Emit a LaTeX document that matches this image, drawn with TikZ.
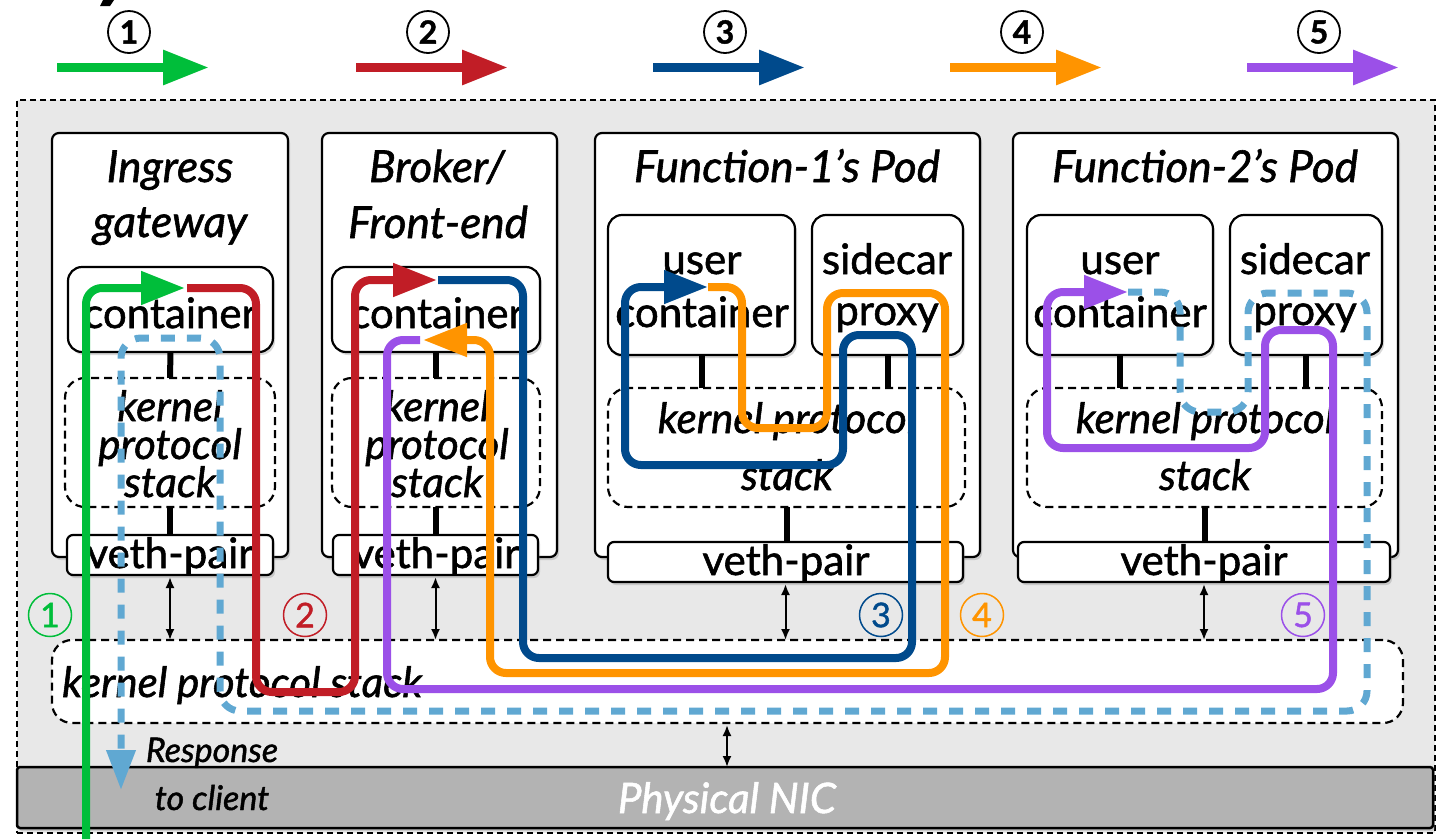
\documentclass[tikz,border=0pt]{standalone}
\usepackage{fontspec}
\setmainfont{Lato}[FakeBold=1.3]
\usetikzlibrary{arrows.meta,shadows}

\definecolor{cGreen}{RGB}{0,190,58}
\definecolor{cRed}{RGB}{193,29,38}
\definecolor{cBlue}{RGB}{0,74,140}
\definecolor{cOrange}{RGB}{255,148,0}
\definecolor{cPurple}{RGB}{155,80,232}
\definecolor{cResp}{RGB}{96,168,210}
\definecolor{hostGrey}{RGB}{232,232,232}
\definecolor{nicGrey}{RGB}{179,179,179}

\newcommand\fsz[1]{\fontsize{#1}{#1}\selectfont}

\begin{document}
\begin{tikzpicture}[x=1pt,y=-1pt,
  box/.style={draw=black, fill=white, line width=2.2pt, inner sep=0pt, outer sep=0pt, anchor=north west},
  shade3/.style={drop shadow={shadow xshift=2pt, shadow yshift=-3pt, opacity=0.3}},
  pod/.style={box, rounded corners=7pt, shade3},
  ctr/.style={box, rounded corners=14pt, shade3},
  kstack/.style={box, dash pattern=on 8pt off 5pt, rounded corners=20pt},
  veth/.style={box, rounded corners=6pt, shade3},
  link/.style={line width=6pt},
  dbl/.style={line width=2pt, {Latex[length=11pt,width=9pt]}-{Latex[length=11pt,width=9pt]}},
  ttl/.style={font=\itshape\fsz{44}, inner sep=0pt, anchor=base},
  upr/.style={font=\fsz{42}, inner sep=0pt, anchor=base},
  itl/.style={font=\itshape\fsz{42}, inner sep=0pt, anchor=base},
  flow/.style={line width=8pt, rounded corners=16pt},
  tip/.style={-{Triangle[length=44pt,width=32pt]}},
  legarrow/.style={line width=9pt, -{Triangle[length=46pt,width=33pt]}},
  legnum/.style={circle, draw=black, line width=1.8pt, minimum size=42pt, inner sep=0pt, font=\bfseries\fsz{32}},
  numc/.style={circle, draw=#1, text=#1, line width=1.5pt, minimum size=43pt, inner sep=0pt, font=\fsz{34}}
]
\useasboundingbox (0,0) rectangle (1437,839);
\fill[white] (0,0) rectangle (1437,839);

% stray stroke at the upper edge
\fill[black] (103,0) -- (114,0) -- (110,6) -- (100,6) -- cycle;

% legend
\foreach \x/\c/\n in {57/cGreen/1, 356/cRed/2, 653/cBlue/3, 950/cOrange/4, 1247/cPurple/5}{
  \coordinate (ls\n) at (\x,67.5);
  \coordinate (le\n) at (\x+152,67.5);
  \draw[legarrow, \c] (ls\n) -- (le\n);
  \node[legnum] (lg\n) at (\x+72,32) {\n};
}

% host area
\node[box, fill=hostGrey, line width=2pt, dash pattern=on 6pt off 4pt,
      minimum width=1418pt, minimum height=733pt] (host) at (17,100) {};

% physical NIC
\node[box, fill=nicGrey, line width=2.5pt, rounded corners=3pt, shade3,
      minimum width=1416pt, minimum height=61pt] (nic) at (17,767) {};
\node[font=\itshape\fsz{42}, text=white, inner sep=0pt, anchor=base] (nict) at (727,813) {Physical NIC};

% host kernel protocol stack
\node[kstack, minimum width=1351pt, minimum height=83pt] (hk) at (52,640) {};
\node[itl, anchor=base west] (hkt) at (62,697) {kernel protocol stack};

% pods
\node[pod, minimum width=236pt, minimum height=424pt] (ig) at (52,133) {};
\node[pod, minimum width=235pt, minimum height=424pt] (br) at (322,133) {};
\node[pod, minimum width=385pt, minimum height=424pt] (f1) at (595,133) {};
\node[pod, minimum width=385pt, minimum height=424pt] (f2) at (1013,133) {};

% containers
\node[ctr, minimum width=205pt, minimum height=85pt] (igc) at (68,267) {};
\node[ctr, minimum width=208pt, minimum height=85pt] (brc) at (332,267) {};
\node[ctr, minimum width=187pt, minimum height=140pt] (f1u) at (608,215) {};
\node[ctr, minimum width=151pt, minimum height=140pt] (f1s) at (812,215) {};
\node[ctr, minimum width=186pt, minimum height=140pt] (f2u) at (1027,215) {};
\node[ctr, minimum width=152pt, minimum height=140pt] (f2s) at (1230,215) {};

% pod kernel stacks
\node[kstack, minimum width=210pt, minimum height=129pt] (igk) at (65,378) {};
\node[kstack, minimum width=208pt, minimum height=129pt] (brk) at (332,378) {};
\node[kstack, minimum width=357pt, minimum height=119pt] (f1k) at (608,388) {};
\node[kstack, minimum width=355pt, minimum height=119pt] (f2k) at (1027,388) {};

% internal links
\draw[link] (igc.south) -- (igk.north);
\draw[link] (brc.south) -- (brk.north);
\draw[link] (f1u.south) -- (f1u.south |- f1k.north);
\draw[link] (f1s.south) -- (f1s.south |- f1k.north);
\draw[link] (f2u.south) -- (f2u.south |- f2k.north);
\draw[link] (f2s.south) -- (f2s.south |- f2k.north);

% veth pairs
\node[veth, minimum width=206pt, minimum height=40pt] (igv) at (67,535) {};
\node[veth, minimum width=205pt, minimum height=40pt] (brv) at (333,535) {};
\node[veth, minimum width=355pt, minimum height=40pt] (f1v) at (608,542) {};
\node[veth, minimum width=372pt, minimum height=40pt] (f2v) at (1018,542) {};

\draw[link] (igk.south) -- (igk.south |- igv.north);
\draw[link] (brk.south) -- (brk.south |- brv.north);
\draw[link] (f1k.south) -- (f1k.south |- f1v.north);
\draw[link] (f2k.south) -- (f2k.south |- f2v.north);

% veth <-> host stack <-> NIC
\draw[dbl] ([yshift=-2pt]igv.south) -- (igv.south |- hk.north);
\draw[dbl] ([yshift=-2pt]brv.south) -- (brv.south |- hk.north);
\draw[dbl] ([yshift=-2pt]f1v.south) -- (f1v.south |- hk.north);
\draw[dbl] ([yshift=-2pt]f2v.south) -- (f2v.south |- hk.north);
\draw[dbl] ([yshift=-2pt]hk.south -| nict) -- (nic.north -| nict);

% labels
\node[ttl] (igt1) at (170,182) {Ingress};
\node[ttl] (igt2) at (170,237) {gateway};
\node[ttl] (brt1) at (437,182) {Broker/};
\node[ttl] (brt2) at (438,238) {Front-end};
\node[ttl] (f1t) at (787,182) {Function-1’s Pod};
\node[ttl] (f2t) at (1205,182) {Function-2’s Pod};

\node[upr] (igct) at (170,328) {container};
\node[upr] (brct) at (437,328) {container};
\node[upr] (f1ut1) at (702,274) {user};
\node[upr] (f1ut2) at (702,327) {container};
\node[upr] (f1st1) at (887,274) {sidecar};
\node[upr] (f1st2) at (887,325) {proxy};
\node[upr] (f2ut1) at (1120,274) {user};
\node[upr] (f2ut2) at (1120,327) {container};
\node[upr] (f2st1) at (1305,274) {sidecar};
\node[upr] (f2st2) at (1305,325) {proxy};

\node[itl] (igk1) at (170,421) {kernel};
\node[itl] (igk2) at (170,459) {protocol};
\node[itl] (igk3) at (170,497) {stack};
\node[itl] (brk1) at (437,421) {kernel};
\node[itl] (brk2) at (437,459) {protocol};
\node[itl] (brk3) at (437,497) {stack};
\node[itl] (f1k1) at (787,433) {kernel protocol};
\node[itl] (f1k2) at (787,490) {stack};
\node[itl] (f2k1) at (1205,433) {kernel protocol};
\node[itl] (f2k2) at (1205,490) {stack};

\node[upr] (igvt) at (170,568) {veth-pair};
\node[upr] (brvt) at (436,568) {veth-pair};
\node[upr] (f1vt) at (786,575) {veth-pair};
\node[upr] (f2vt) at (1204,575) {veth-pair};

\node[font=\itshape\fsz{34}, inner sep=0pt, anchor=base] (resp1) at (212,762) {Response};
\node[font=\itshape\fsz{34}, inner sep=0pt, anchor=base] (resp2) at (212,810) {to client};

% step numbers
\node[numc=cGreen] (n1) at (50,615) {1};
\node[numc=cRed] (n2) at (305,615) {2};
\node[numc=cBlue] (n3) at (881,615) {3};
\node[numc=cOrange] (n4) at (982,615) {4};
\node[numc=cPurple] (n5) at (1303,615) {5};

% response path back to the client
\coordinate (rs) at (1128,292);
\coordinate (re) at (121,790);
\draw[cResp, line width=7pt, rounded corners=20pt, dash pattern=on 14pt off 12pt,
      -{Triangle[length=40pt,width=28pt]}]
  (rs) -- (1180,292) -- (1180,412) -- (1248,412) -- (1248,293) -- (1367,293)
  -- (1367,711) -- (220,711) -- (220,338) -- (121,338) -- (re);

% request flows
\coordinate (g0) at (86,839);
\coordinate (g1) at (185,288);
\draw[flow, tip, cGreen] (g0) -- (86,288) -- (g1);

\coordinate (r0) at (187,288);
\coordinate (r1) at (437,280);
\draw[flow, tip, cRed] (r0) -- (256,288) -- (256,692) -- (355,692) -- (355,280) -- (r1);

\coordinate (b0) at (438,280);
\coordinate (b1) at (708,287);
\draw[flow, tip, cBlue] (b0) -- (523,280) -- (523,658) -- (912,658) -- (912,335)
  -- (843,335) -- (843,465) -- (625,465) -- (625,287) -- (b1);

\coordinate (o0) at (708,287);
\coordinate (o1) at (423,340);
\draw[flow, tip, cOrange] (o0) -- (742,287) -- (742,428) -- (827,428) -- (827,293)
  -- (945,293) -- (945,673) -- (490,673) -- (490,340) -- (o1);

\coordinate (p0) at (420,340);
\coordinate (p1) at (1128,292);
\draw[flow, tip, cPurple] (p0) -- (387,340) -- (387,689) -- (1333,689) -- (1333,330)
  -- (1265,330) -- (1265,448) -- (1047,448) -- (1047,292) -- (p1);
\end{tikzpicture}
\end{document}
